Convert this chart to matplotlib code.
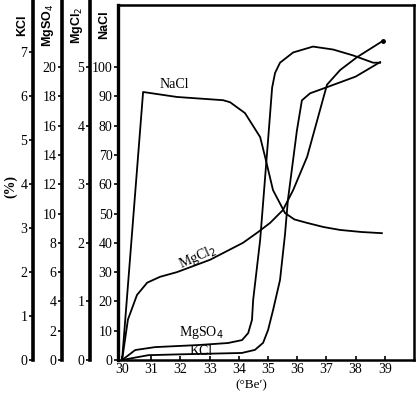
import numpy as np
import matplotlib
matplotlib.use("Agg")
import matplotlib.pyplot as plt

#%% data (x = degrees Be', y = % in each salt's own scale)
nacl_x = [30.0, 30.72, 31.88, 33.46, 33.7, 34.21, 34.73, 34.9, 35.17, 35.58, 35.9, 36.34, 36.9, 37.47, 38.2, 38.9]
nacl_y = [0, 91.5, 89.8, 88.7, 88.0, 84.3, 76.1, 69.3, 58.0, 50.2, 48.0, 46.8, 45.4, 44.4, 43.7, 43.3]

mgcl2_x = [30.0, 30.2, 30.51, 30.86, 31.3, 31.88, 33.01, 34.14, 34.62, 35.07, 35.51, 35.86, 36.34, 37.02, 37.47, 38.05, 38.94]
mgcl2_y = [0, 0.69, 1.11, 1.32, 1.42, 1.50, 1.71, 2.0, 2.17, 2.34, 2.56, 2.90, 3.47, 4.70, 4.95, 5.17, 5.45]

mgso4_x = [30.0, 30.45, 31.13, 32.6, 33.63, 34.11, 34.32, 34.45, 34.49, 34.73, 35.0, 35.14, 35.24, 35.41, 35.86, 36.54, 37.23, 37.91, 38.6, 38.84]
mgso4_y = [0, 0.68, 0.88, 1.02, 1.16, 1.36, 1.84, 2.74, 4.1, 8.2, 15.0, 18.6, 19.6, 20.3, 21.0, 21.4, 21.2, 20.8, 20.3, 20.3]

kcl_x = [30.0, 30.9, 32.05, 34.1, 34.55, 34.83, 35.0, 35.17, 35.41, 35.58, 35.68, 35.99, 36.16, 36.44, 37.02, 38.0, 38.84]
kcl_y = [0, 0.11, 0.13, 0.16, 0.23, 0.39, 0.68, 1.13, 1.82, 2.85, 3.64, 5.23, 5.91, 6.07, 6.21, 6.45, 6.78]

x_ticks = list(range(30, 40))
nacl_ticks = list(range(0, 101, 10))
mgcl2_ticks = [0, 1, 2, 3, 4, 5]
mgso4_ticks = list(range(0, 21, 2))
kcl_ticks = [0, 1, 2, 3, 4, 5, 6, 7]

#%% figure
plt.rcParams['font.family'] = ['Liberation Serif', 'DejaVu Serif']
fig = plt.figure(figsize=(4.17, 3.95), dpi=100)
ax = fig.add_axes([118/417, 35/395, 296/417, 355/395])

top = 121.2  # NaCl scale at the top of the frame
lw = 1.3

ax.plot(nacl_x, nacl_y, color='black', lw=lw)
ax.set_xlim(29.86, 40.0)
ax.set_ylim(0, top)
ax.set_xticks(x_ticks)
ax.set_yticks(nacl_ticks)
ax.tick_params(axis='x', direction='in', length=3, width=1.2, labelsize=10, pad=2)
ax.tick_params(axis='y', direction='out', length=3, width=1.2, labelsize=10, pad=1)
for s in ax.spines.values():
    s.set_linewidth(1.8)
ax.spines['left'].set_linewidth(2.4)

# extra y scales, one per salt
def side_axis(pos, lim, ticks):
    a = ax.twinx()
    a.set_ylim(0, lim)
    a.set_yticks(ticks)
    a.yaxis.set_ticks_position('left')
    a.yaxis.set_label_position('left')
    a.spines['left'].set_position(('axes', pos))
    a.spines['left'].set_visible(True)
    a.spines['left'].set_linewidth(2.6)
    a.spines['left'].set_bounds(0, lim * 1.012)
    for k in ['right', 'top', 'bottom']:
        a.spines[k].set_visible(False)
    a.tick_params(axis='y', direction='out', length=3, width=1.2, labelsize=10, pad=1)
    a.patch.set_visible(False)
    return a

ax_mgcl2 = side_axis((90 - 118) / 296, top / 20, mgcl2_ticks)
ax_mgso4 = side_axis((62 - 118) / 296, top / 5, mgso4_ticks)
ax_kcl = side_axis((33 - 118) / 296, top / 15, kcl_ticks)

ax_mgcl2.plot(mgcl2_x, mgcl2_y, color='black', lw=lw)
ax_mgso4.plot(mgso4_x, mgso4_y, color='black', lw=lw)
ax_kcl.plot(kcl_x, kcl_y, color='black', lw=lw)
ax_mgcl2.plot([mgcl2_x[-1]], [mgcl2_y[-1]], 'o', color='black', ms=2.5)

#%% text
ax.text(31.8, 94, 'NaCl', fontsize=10, ha='center', va='center')
ax.text(32.6, 35, 'MgCl$_2$', fontsize=10, ha='center', va='center', rotation=24)
ax.text(32.7, 9.5, 'MgSO$_4$', fontsize=10, ha='center', va='center')
ax.text(32.7, 3.0, 'KCl', fontsize=10, ha='center', va='center')

ax.text(0.45, -0.07, "(°Be′)", transform=ax.transAxes, fontsize=9.5, ha='center', va='center')

for name, px in [('KCl', 22), ('MgSO$_4$', 48), ('MgCl$_2$', 77), ('NaCl', 104)]:
    fig.text(px / 417, 1 - 25 / 395, name, rotation=90, fontsize=9, fontweight='bold',
             ha='center', va='center', family=['Liberation Sans', 'DejaVu Sans'])
fig.text(11 / 417, 1 - 186 / 395, '(%)', rotation=90, fontsize=10, fontweight='bold',
         ha='center', va='center')

plt.savefig("out.png", dpi=100)
